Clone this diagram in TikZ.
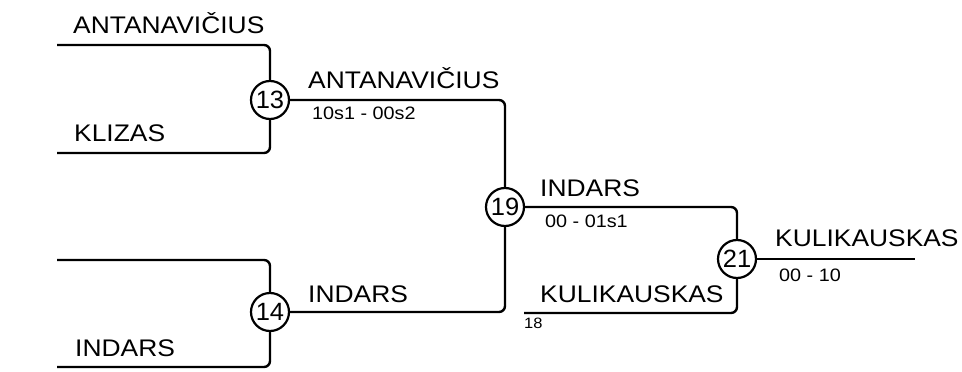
\documentclass[tikz,border=0pt]{standalone}
\usepackage{fontspec}
\setmainfont{Liberation Sans}
\newcommand{\hwide}[1]{\scalebox{1.1}[1]{#1}}
\begin{document}
\begin{tikzpicture}[x=1pt,y=-1pt,
  bline/.style={line width=2.4pt,rounded corners=6pt},
  seed/.style={circle,draw,line width=2.2pt,minimum size=38pt,inner sep=0pt,font=\fontsize{25}{28}\selectfont},
  pname/.style={anchor=base west,inner sep=0pt,font=\fontsize{24}{27}\selectfont},
  pscore/.style={anchor=base west,inner sep=0pt,font=\fontsize{18}{20}\selectfont},
  ptiny/.style={anchor=base west,inner sep=0pt,font=\fontsize{15}{17}\selectfont}]
\useasboundingbox (0,0) rectangle (962,372);
% match circles
\node[seed] (m13) at (270,100) {\scalebox{1.02}[1]{13}};
\node[seed] (m14) at (270,312) {\scalebox{1.02}[1]{14}};
\node[seed] (m19) at (505,207) {\scalebox{1.02}[1]{19}};
\node[seed] (m21) at (737,259) {\scalebox{1.02}[1]{21}};
% free ends
\coordinate (a1) at (57,45);
\coordinate (a2) at (57,153);
\coordinate (b1) at (57,260);
\coordinate (b2) at (57,367);
\coordinate (c2) at (524,313);
\coordinate (fin) at (915,259);
% connectors
\draw[bline] (a1) -| (m13);
\draw[bline] (a2) -| (m13);
\draw[bline] (b1) -| (m14);
\draw[bline] (b2) -| (m14);
\draw[bline] (m13) -| (m19);
\draw[bline] (m14) -| (m19);
\draw[bline] (m19) -| (m21);
\draw[bline] (c2) -| (m21);
\draw[bline] (m21) -- (fin);
% names
\node[pname] (t1) at (73,34) {\hwide{ANTANAVIČIUS}};
\node[pname] (t2) at (74,141) {\hwide{KLIZAS}};
\node[pname] (t3) at (75,356) {\hwide{INDARS}};
\node[pname] (t4) at (308,88) {\hwide{ANTANAVIČIUS}};
\node[pname] (t5) at (308,302) {\hwide{INDARS}};
\node[pname] (t6) at (540,196) {\hwide{INDARS}};
\node[pname] (t7) at (540,302) {\hwide{KULIKAUSKAS}};
\node[pname] (t8) at (775,246) {\hwide{KULIKAUSKAS}};
% scores
\node[pscore] (s1) at (312,119) {\hwide{10s1 - 00s2}};
\node[pscore] (s2) at (545,227) {\hwide{00 - 01s1}};
\node[pscore] (s3) at (779,281) {\hwide{00 - 10}};
\node[ptiny] (s4) at (524,328) {\hwide{18}};
\end{tikzpicture}
\end{document}
